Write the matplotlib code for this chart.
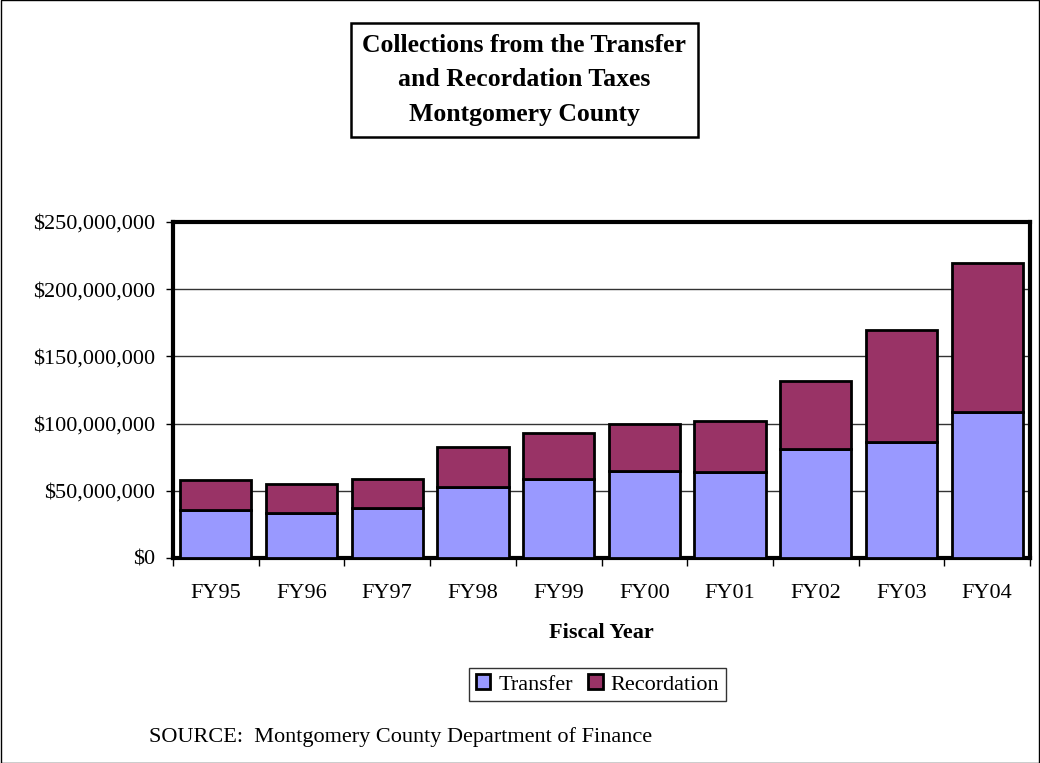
import matplotlib.pyplot as plt
import matplotlib.ticker as mticker
import numpy as np

plt.rcParams['font.family'] = ['Liberation Serif', 'DejaVu Serif']

years = ['FY95', 'FY96', 'FY97', 'FY98', 'FY99', 'FY00', 'FY01', 'FY02', 'FY03', 'FY04']
# millions of dollars
transfer = [35.7, 33.7, 37.0, 52.6, 58.5, 64.7, 64.2, 81.1, 86.1, 108.4]
total = [58.0, 55.0, 59.0, 82.8, 92.8, 99.5, 102.0, 131.7, 169.6, 219.3]
recordation = [t - a for t, a in zip(total, transfer)]

transfer = np.array(transfer) * 1e6
recordation = np.array(recordation) * 1e6

fig = plt.figure(figsize=(10.4, 7.63), dpi=100)
ax = fig.add_axes([173 / 1040, 1 - 558 / 763, (1030 - 173) / 1040, (558 - 222) / 763])

x = np.arange(len(years))
ax.bar(x, transfer, width=0.83, color='#9999FF', edgecolor='black', linewidth=2,
       label='Transfer', zorder=3)
ax.bar(x, recordation, width=0.83, bottom=transfer, color='#993366', edgecolor='black',
       linewidth=2, label='Recordation', zorder=3)

ax.set_xlim(-0.5, len(years) - 0.5)
ax.set_ylim(0, 250e6)
ax.yaxis.set_major_locator(mticker.MultipleLocator(50e6))
ax.yaxis.set_major_formatter(mticker.FuncFormatter(lambda v, p: '${:,.0f}'.format(v)))
ax.grid(axis='y', color='#333333', linewidth=1, zorder=0)

ax.set_xticks(x)
ax.set_xticklabels(years)
ax.set_xticks(np.arange(-0.5, len(years)), minor=True)
ax.tick_params(axis='x', which='major', length=0, pad=19, labelsize=16)
ax.tick_params(axis='x', which='minor', length=6, width=1)
ax.tick_params(axis='y', length=5, width=1, labelsize=16, pad=8)

for s in ax.spines.values():
    s.set_linewidth(3)

ax.set_xlabel('Fiscal Year', fontsize=16, fontweight='bold', labelpad=14)

fig.text(524 / 1040, 1 - 80 / 763,
         'Collections from the Transfer\nand Recordation Taxes\nMontgomery County',
         ha='center', va='center', fontsize=18.5, fontweight='bold', linespacing=1.62,
         bbox=dict(boxstyle='square,pad=0.45', facecolor='white', edgecolor='black', linewidth=1.8))

leg = fig.legend(loc='center', bbox_to_anchor=(597.5 / 1040, 1 - 684.5 / 763), ncol=2,
                 fontsize=16, frameon=True, fancybox=False, edgecolor='black',
                 handlelength=0.65, handleheight=0.65, handletextpad=0.35, columnspacing=0.7,
                 borderpad=0.3, borderaxespad=0)
leg.get_frame().set_linewidth(1)

fig.text(149 / 1040, 1 - 742 / 763, 'SOURCE:  Montgomery County Department of Finance',
         ha='left', va='baseline', fontsize=16)

fig.add_artist(plt.Rectangle((0.0005, 0.0005), 0.999, 0.999, transform=fig.transFigure,
                             fill=False, edgecolor='black', linewidth=1))

fig.savefig('out.png', dpi=100)
